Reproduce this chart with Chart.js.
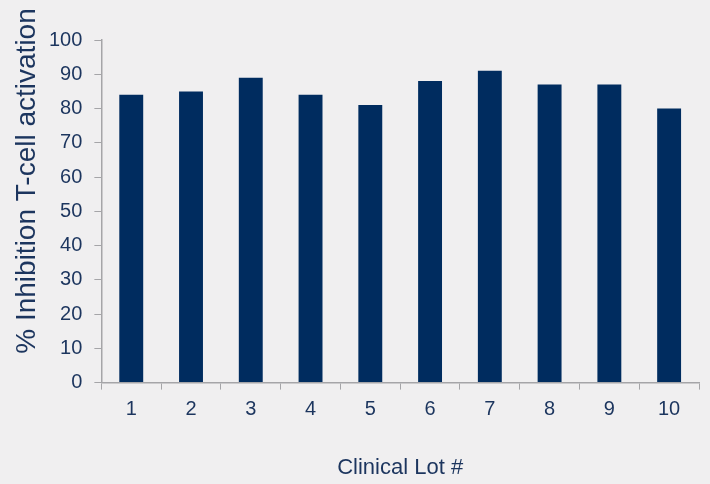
<!DOCTYPE html>
<html>
<head>
<meta charset="utf-8">
<script src="https://cdn.jsdelivr.net/npm/chart.js@4"></script>
<style>
  html, body { margin: 0; padding: 0; background: #f0eff0; }
  #wrap { width: 710px; height: 484px; }
</style>
</head>
<body>
<div id="wrap"><canvas id="myChart" width="710" height="484"></canvas></div>
<script>
const lots = ['1', '2', '3', '4', '5', '6', '7', '8', '9', '10'];
const inhibition = [84, 85, 89, 84, 81, 88, 91, 87, 87, 80];
const yTicks = [0, 10, 20, 30, 40, 50, 60, 70, 80, 90, 100];

const textColor = '#1c355e';
const axisColor = '#a5a5a8';

// y title is drawn by hand so it can sit a bit higher than the plot centre
const yTitle = {
    id: 'yTitle',
    afterDraw(chart) {
        const c = chart.ctx;
        c.save();
        c.translate(35, 181);
        c.rotate(-Math.PI / 2);
        c.font = '28px "Liberation Sans", Arial, sans-serif';
        c.fillStyle = textColor;
        c.textAlign = 'center';
        c.textBaseline = 'alphabetic';
        c.fillText('% Inhibition T-cell activation', 0, 0);
        c.restore();
    }
};

Chart.defaults.font.family = '"Liberation Sans", Arial, sans-serif';

const ctx = document.getElementById('myChart').getContext('2d');
const myChart = new Chart(ctx, {
    type: 'bar',
    data: {
        labels: lots,
        datasets: [{
            label: '% Inhibition',
            data: inhibition,
            backgroundColor: '#002c5f',
            borderWidth: 0,
            barPercentage: 0.4,
            categoryPercentage: 1.0
        }]
    },
    options: {
        responsive: false,
        animation: false,
        layout: {
            padding: { left: 37, right: 11, top: 40, bottom: 3 }
        },
        plugins: {
            legend: { display: false },
            tooltip: { enabled: false }
        },
        scales: {
            x: {
                grid: {
                    display: true,
                    drawOnChartArea: false,
                    color: axisColor,
                    tickLength: 7,
                    offset: true
                },
                border: { color: axisColor, width: 1.5 },
                ticks: {
                    color: textColor,
                    font: { size: 20 },
                    padding: 8
                },
                title: {
                    display: true,
                    text: 'Clinical Lot #',
                    color: textColor,
                    font: { size: 22 },
                    padding: { top: 25, bottom: 0 }
                }
            },
            y: {
                min: 0,
                max: 100,
                afterBuildTicks(scale) {
                    scale.ticks = yTicks.map(v => ({ value: v }));
                },
                grid: {
                    display: true,
                    drawOnChartArea: false,
                    color: axisColor,
                    tickLength: 7
                },
                border: { color: axisColor, width: 1.5 },
                ticks: {
                    color: textColor,
                    font: { size: 20 },
                    padding: 12
                }
            }
        }
    },
    plugins: [yTitle]
});
</script>
</body>
</html>
